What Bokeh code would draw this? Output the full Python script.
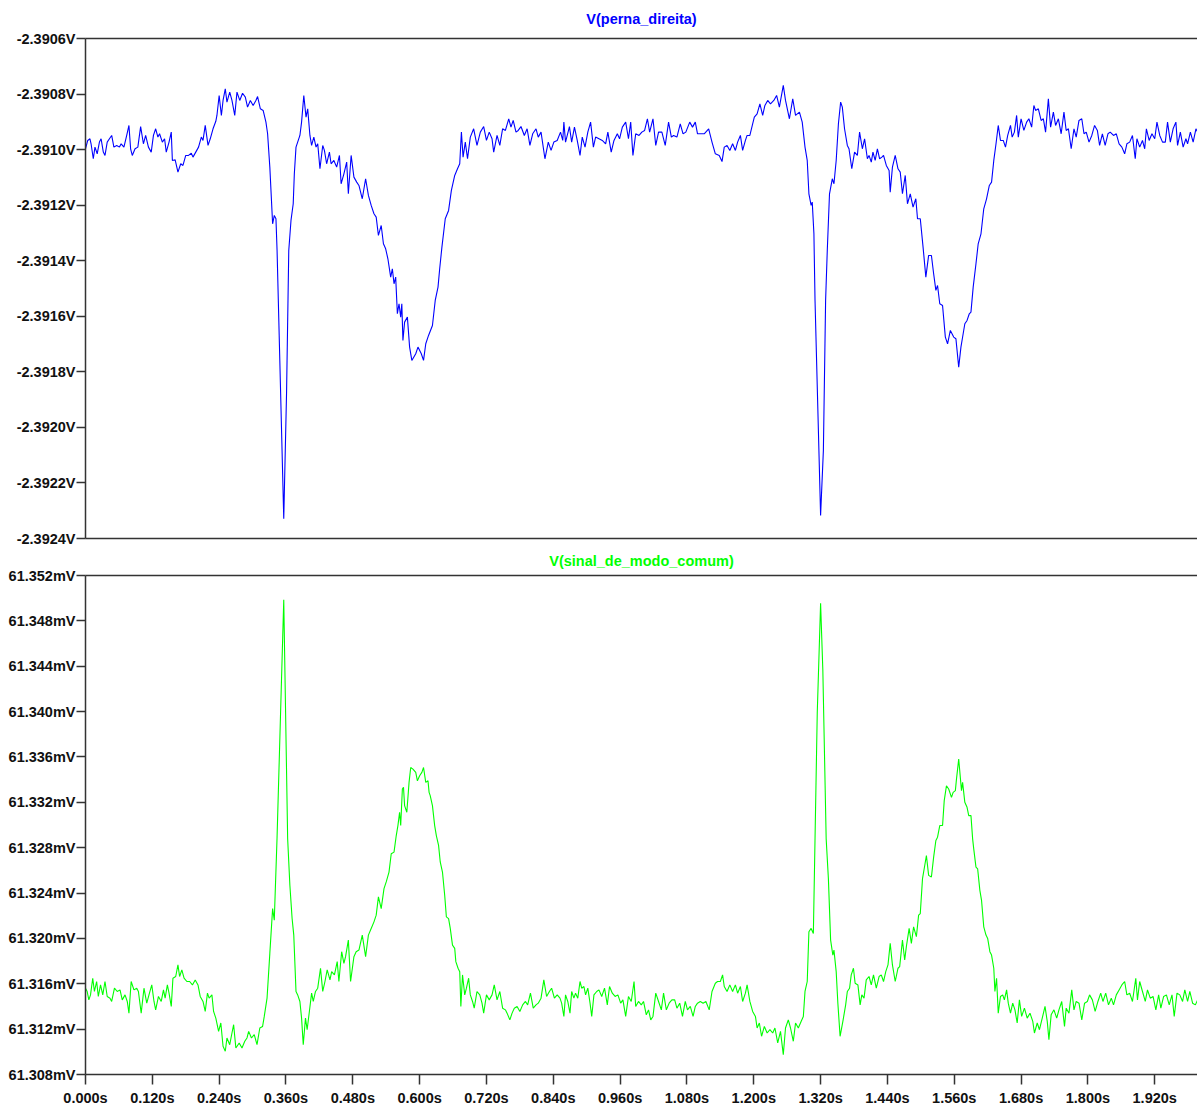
from bokeh.plotting import figure
from bokeh.layouts import column
from bokeh.models import Range1d, LinearAxis, FixedTicker, PrintfTickFormatter
from bokeh.embed import file_html
from bokeh.resources import INLINE

# ---------------- data ----------------
# V(perna_direita): (time in ms, volts)
perna_direita = [
    (0, -2.390997), (4, -2.390967), (8, -2.390961), (10, -2.390979), (14, -2.391033), (17, -2.390991),
    (21, -2.391015), (25, -2.390973), (28, -2.390961), (32, -2.391009), (35, -2.391021), (39, -2.390973),
    (43, -2.390961), (47, -2.390949), (51, -2.390991), (56, -2.390985), (61, -2.390991), (64, -2.390979),
    (69, -2.390991), (74, -2.390949), (78, -2.390913), (81, -2.390997), (84, -2.391021), (89, -2.390997),
    (94, -2.390991), (99, -2.390917), (104, -2.390979), (108, -2.390949), (113, -2.390991), (118, -2.391009),
    (122, -2.390949), (126, -2.390925), (130, -2.390955), (133, -2.390943), (138, -2.390973), (142, -2.390961),
    (145, -2.391009), (150, -2.390973), (154, -2.390937), (156, -2.391039), (161, -2.391037), (166, -2.391081),
    (171, -2.391051), (175, -2.391057), (180, -2.391021), (185, -2.391021), (190, -2.391013), (193, -2.391027),
    (198, -2.391009), (203, -2.390991), (208, -2.390955), (211, -2.390967), (215, -2.390913), (220, -2.390985),
    (224, -2.390961), (229, -2.390925), (234, -2.390898), (236, -2.390877), (240, -2.390805), (244, -2.390877),
    (247, -2.390823), (251, -2.390781), (254, -2.390829), (259, -2.390793), (263, -2.390823), (268, -2.390877),
    (272, -2.390793), (277, -2.390823), (282, -2.390797), (287, -2.390811), (291, -2.390847), (296, -2.390823),
    (301, -2.390841), (306, -2.390823), (309, -2.390809), (314, -2.390853), (319, -2.390859), (324, -2.390901),
    (327, -2.390943), (331, -2.391063), (336, -2.391267), (339, -2.391237), (342, -2.391249), (344, -2.391363),
    (356, -2.392329), (361, -2.391879), (365, -2.391363), (369, -2.391255), (373, -2.391195), (375, -2.391087),
    (378, -2.390991), (381, -2.390973), (385, -2.390949), (388, -2.390901), (392, -2.390805), (396, -2.390883),
    (399, -2.390853), (403, -2.390949), (406, -2.390985), (410, -2.390955), (414, -2.390991), (417, -2.390979),
    (421, -2.391069), (426, -2.390985), (429, -2.391003), (433, -2.391051), (438, -2.391009), (441, -2.391051),
    (446, -2.391039), (451, -2.391063), (456, -2.391021), (459, -2.391123), (464, -2.391087), (469, -2.391045),
    (472, -2.391159), (477, -2.391021), (482, -2.391099), (487, -2.391117), (491, -2.391129), (497, -2.391177),
    (503, -2.391105), (508, -2.391165), (513, -2.391201), (518, -2.391231), (522, -2.391243), (526, -2.391309),
    (531, -2.391273), (535, -2.391339), (539, -2.391357), (543, -2.391393), (548, -2.391459), (551, -2.391429),
    (554, -2.391483), (557, -2.391459), (560, -2.391591), (563, -2.391555), (566, -2.391603), (568, -2.391555),
    (570, -2.391687), (573, -2.391621), (578, -2.391603), (582, -2.391711), (586, -2.391759), (593, -2.391735),
    (597, -2.391711), (603, -2.391735), (607, -2.391759), (611, -2.391699), (616, -2.391669), (623, -2.391633),
    (628, -2.391543), (633, -2.391495), (636, -2.391429), (640, -2.391351), (646, -2.391249), (652, -2.391219),
    (657, -2.391147), (663, -2.391093), (668, -2.391069), (672, -2.391051), (675, -2.390937), (678, -2.391027),
    (682, -2.390973), (686, -2.391033), (691, -2.390955), (697, -2.390925), (703, -2.390985), (709, -2.390937),
    (715, -2.390917), (720, -2.390967), (725, -2.390937), (730, -2.390961), (733, -2.391009), (739, -2.390949),
    (744, -2.390985), (749, -2.390925), (754, -2.390931), (760, -2.390889), (764, -2.390919), (768, -2.390895),
    (773, -2.390937), (777, -2.390931), (782, -2.390917), (788, -2.390949), (793, -2.390925), (798, -2.390985),
    (803, -2.390943), (809, -2.390925), (813, -2.390955), (818, -2.390937), (825, -2.391033), (831, -2.390973),
    (836, -2.391003), (841, -2.390973), (847, -2.390967), (853, -2.390937), (857, -2.390967), (859, -2.390901),
    (862, -2.390973), (869, -2.390917), (873, -2.390973), (878, -2.390919), (883, -2.390967), (888, -2.391021),
    (892, -2.390955), (897, -2.390991), (902, -2.390937), (907, -2.390901), (912, -2.390991), (916, -2.390955),
    (922, -2.390961), (928, -2.390967), (934, -2.390979), (938, -2.390937), (944, -2.391009), (949, -2.390967),
    (955, -2.390943), (959, -2.390961), (964, -2.390919), (970, -2.390901), (975, -2.390961), (979, -2.390901),
    (983, -2.391021), (988, -2.390943), (994, -2.390949), (999, -2.390937), (1004, -2.390931), (1009, -2.390889),
    (1013, -2.390937), (1019, -2.390889), (1024, -2.390985), (1029, -2.390937), (1035, -2.390937), (1041, -2.390985),
    (1047, -2.390901), (1052, -2.390955), (1056, -2.390949), (1062, -2.390955), (1068, -2.390907), (1073, -2.390943),
    (1078, -2.390937), (1085, -2.390901), (1090, -2.390919), (1095, -2.390901), (1099, -2.390943), (1106, -2.390943),
    (1111, -2.390943), (1119, -2.390925), (1125, -2.390973), (1131, -2.391015), (1138, -2.391021), (1143, -2.391043),
    (1147, -2.390991), (1152, -2.390985), (1157, -2.391003), (1162, -2.390979), (1167, -2.391003), (1171, -2.390973),
    (1176, -2.390949), (1180, -2.391003), (1185, -2.390967), (1188, -2.390949), (1193, -2.390949), (1198, -2.390907),
    (1201, -2.390883), (1206, -2.390871), (1211, -2.390835), (1216, -2.390877), (1220, -2.390841), (1225, -2.390823),
    (1230, -2.390835), (1236, -2.390823), (1241, -2.390805), (1246, -2.390847), (1253, -2.390769), (1257, -2.390823),
    (1264, -2.390889), (1270, -2.390817), (1275, -2.390877), (1282, -2.390865), (1287, -2.390901), (1292, -2.390991),
    (1296, -2.391039), (1299, -2.391159), (1303, -2.391201), (1305, -2.391189), (1308, -2.391303), (1310, -2.391543),
    (1320, -2.392317), (1325, -2.392083), (1329, -2.391543), (1332, -2.391363), (1336, -2.391159), (1341, -2.391105),
    (1344, -2.391123), (1348, -2.391039), (1352, -2.390907), (1356, -2.390829), (1359, -2.390847), (1363, -2.390925),
    (1368, -2.390985), (1371, -2.390997), (1376, -2.391069), (1381, -2.391009), (1386, -2.391021), (1390, -2.390937),
    (1395, -2.390997), (1399, -2.390961), (1404, -2.391033), (1407, -2.391021), (1411, -2.391045), (1414, -2.391009),
    (1418, -2.391039), (1422, -2.390997), (1426, -2.391033), (1430, -2.391027), (1433, -2.391021), (1438, -2.391057),
    (1443, -2.391075), (1445, -2.391153), (1449, -2.391063), (1454, -2.391021), (1459, -2.391069), (1463, -2.391081),
    (1467, -2.391159), (1472, -2.391093), (1476, -2.391195), (1481, -2.391159), (1486, -2.391207), (1491, -2.391177),
    (1494, -2.391249), (1499, -2.391249), (1504, -2.391351), (1509, -2.391459), (1514, -2.391381), (1519, -2.391381),
    (1523, -2.391447), (1527, -2.391507), (1530, -2.391489), (1534, -2.391555), (1539, -2.391561), (1544, -2.391675),
    (1548, -2.391699), (1553, -2.391651), (1559, -2.391675), (1563, -2.391681), (1568, -2.391783), (1572, -2.391711),
    (1576, -2.391663), (1579, -2.391627), (1583, -2.391615), (1587, -2.391591), (1590, -2.391585), (1594, -2.391495),
    (1599, -2.391411), (1603, -2.391339), (1608, -2.391303), (1613, -2.391213), (1618, -2.391177), (1623, -2.391129),
    (1627, -2.391117), (1631, -2.391039), (1635, -2.390979), (1639, -2.390913), (1643, -2.390967), (1648, -2.390967),
    (1652, -2.390991), (1656, -2.390949), (1661, -2.390913), (1664, -2.390955), (1668, -2.390937), (1672, -2.390877),
    (1675, -2.390955), (1680, -2.390889), (1685, -2.390931), (1690, -2.390901), (1694, -2.390889), (1699, -2.390919),
    (1703, -2.390841), (1706, -2.390859), (1711, -2.390853), (1716, -2.390895), (1720, -2.390889), (1724, -2.390937),
    (1729, -2.390817), (1733, -2.390919), (1738, -2.390865), (1742, -2.390913), (1747, -2.390889), (1752, -2.390943),
    (1757, -2.390865), (1761, -2.390931), (1765, -2.390925), (1770, -2.390997), (1775, -2.390925), (1779, -2.390955),
    (1784, -2.390895), (1789, -2.390889), (1793, -2.390943), (1797, -2.390937), (1802, -2.390973), (1807, -2.390949),
    (1812, -2.390913), (1817, -2.390931), (1821, -2.390985), (1826, -2.390943), (1831, -2.390985), (1836, -2.390943),
    (1840, -2.390937), (1846, -2.390949), (1851, -2.390943), (1856, -2.390979), (1861, -2.390991), (1866, -2.391015),
    (1870, -2.390979), (1875, -2.390973), (1880, -2.390949), (1885, -2.391033), (1888, -2.390961), (1893, -2.390991),
    (1898, -2.390967), (1902, -2.390997), (1905, -2.390925), (1910, -2.390967), (1915, -2.390943), (1920, -2.390961),
    (1924, -2.390901), (1929, -2.390949), (1934, -2.390973), (1939, -2.390973), (1943, -2.390901), (1948, -2.390973),
    (1953, -2.390925), (1958, -2.390901), (1961, -2.390985), (1966, -2.390937), (1971, -2.390991), (1976, -2.390961),
    (1979, -2.390979), (1984, -2.390937), (1989, -2.390973), (1994, -2.390925), (1997, -2.390937),
]

# V(sinal_de_modo_comum): (time in ms, millivolts)
sinal_de_modo_comum = [
    (0, 61.31561), (3, 61.31532), (6, 61.31458), (9, 61.31502), (13, 61.31649), (16, 61.31532),
    (20, 61.31620), (23, 61.31488), (27, 61.31590), (31, 61.31502), (35, 61.31620), (39, 61.31488),
    (44, 61.31473), (47, 61.31444), (52, 61.31561), (57, 61.31532), (62, 61.31546), (66, 61.31458),
    (71, 61.31502), (75, 61.31444), (78, 61.31341), (82, 61.31620), (87, 61.31546), (92, 61.31561),
    (95, 61.31532), (100, 61.31341), (105, 61.31561), (110, 61.31429), (114, 61.31502), (119, 61.31590),
    (123, 61.31444), (126, 61.31370), (131, 61.31488), (136, 61.31444), (140, 61.31546), (143, 61.31473),
    (147, 61.31590), (150, 61.31517), (154, 61.31400), (157, 61.31649), (162, 61.31664), (166, 61.31766),
    (169, 61.31664), (173, 61.31722), (177, 61.31649), (182, 61.31620), (187, 61.31620), (192, 61.31590),
    (197, 61.31634), (202, 61.31590), (206, 61.31488), (211, 61.31444), (215, 61.31356), (219, 61.31517),
    (222, 61.31473), (227, 61.31502), (230, 61.31356), (234, 61.31297), (239, 61.31180), (243, 61.31254),
    (247, 61.31049), (251, 61.31005), (254, 61.31122), (259, 61.31063), (263, 61.31166), (266, 61.31239),
    (270, 61.31034), (276, 61.31078), (281, 61.31034), (286, 61.31093), (290, 61.31122), (293, 61.31180),
    (298, 61.31122), (303, 61.31151), (308, 61.31063), (313, 61.31210), (318, 61.31224), (321, 61.31312),
    (326, 61.31473), (331, 61.31868), (336, 61.32263), (339, 61.32160), (344, 61.32893), (356, 61.34985),
    (363, 61.32878), (367, 61.32468), (371, 61.32175), (374, 61.32029), (378, 61.31532), (381, 61.31502),
    (385, 61.31444), (388, 61.31297), (391, 61.31063), (395, 61.31297), (398, 61.31195), (402, 61.31356),
    (406, 61.31517), (409, 61.31444), (413, 61.31532), (417, 61.31561), (422, 61.31737), (426, 61.31532),
    (430, 61.31620), (434, 61.31722), (439, 61.31634), (442, 61.31707), (447, 61.31678), (452, 61.31795),
    (455, 61.31620), (460, 61.31883), (464, 61.31780), (467, 61.31839), (472, 61.31985), (476, 61.31620),
    (482, 61.31839), (486, 61.31883), (491, 61.31897), (497, 61.32029), (503, 61.31839), (508, 61.32029),
    (513, 61.32088), (518, 61.32146), (522, 61.32205), (526, 61.32366), (531, 61.32263), (536, 61.32439),
    (540, 61.32498), (545, 61.32585), (549, 61.32746), (554, 61.32761), (558, 61.32907), (561, 61.32995),
    (564, 61.33112), (566, 61.32995), (569, 61.33317), (571, 61.33332), (573, 61.33171), (577, 61.33112),
    (581, 61.33376), (584, 61.33507), (588, 61.33493), (593, 61.33464), (596, 61.33390), (600, 61.33434),
    (604, 61.33464), (607, 61.33507), (611, 61.33376), (615, 61.33390), (617, 61.33288), (619, 61.33259),
    (623, 61.33171), (627, 61.32995), (630, 61.32907), (634, 61.32820), (637, 61.32674), (641, 61.32585),
    (645, 61.32380), (648, 61.32190), (652, 61.32175), (655, 61.32088), (659, 61.31941), (663, 61.31912),
    (665, 61.31795), (669, 61.31737), (672, 61.31707), (674, 61.31400), (677, 61.31678), (681, 61.31502),
    (684, 61.31561), (688, 61.31649), (691, 61.31502), (695, 61.31444), (698, 61.31385), (703, 61.31532),
    (708, 61.31502), (712, 61.31429), (715, 61.31341), (720, 61.31502), (725, 61.31458), (730, 61.31502),
    (734, 61.31590), (739, 61.31458), (744, 61.31532), (749, 61.31385), (754, 61.31370), (757, 61.31341),
    (762, 61.31282), (766, 61.31341), (770, 61.31385), (775, 61.31400), (780, 61.31356), (785, 61.31414),
    (790, 61.31444), (794, 61.31414), (799, 61.31517), (804, 61.31385), (809, 61.31414), (813, 61.31429),
    (818, 61.31473), (823, 61.31634), (828, 61.31488), (833, 61.31532), (837, 61.31561), (842, 61.31473),
    (847, 61.31502), (852, 61.31473), (855, 61.31429), (859, 61.31312), (862, 61.31502), (866, 61.31444),
    (870, 61.31341), (873, 61.31532), (877, 61.31473), (880, 61.31517), (884, 61.31473), (888, 61.31620),
    (891, 61.31561), (895, 61.31576), (898, 61.31502), (902, 61.31561), (906, 61.31429), (909, 61.31312),
    (913, 61.31502), (918, 61.31532), (922, 61.31546), (927, 61.31488), (932, 61.31561), (937, 61.31414),
    (941, 61.31576), (946, 61.31517), (951, 61.31488), (956, 61.31502), (961, 61.31429), (965, 61.31458),
    (970, 61.31312), (975, 61.31488), (980, 61.31444), (985, 61.31620), (988, 61.31400), (993, 61.31444),
    (998, 61.31414), (1002, 61.31444), (1007, 61.31326), (1011, 61.31370), (1015, 61.31282), (1019, 61.31312),
    (1024, 61.31517), (1029, 61.31444), (1034, 61.31370), (1038, 61.31517), (1043, 61.31370), (1048, 61.31429),
    (1053, 61.31458), (1058, 61.31458), (1062, 61.31385), (1067, 61.31429), (1072, 61.31312), (1077, 61.31444),
    (1081, 61.31370), (1086, 61.31400), (1091, 61.31312), (1095, 61.31400), (1099, 61.31429), (1104, 61.31444),
    (1109, 61.31429), (1114, 61.31444), (1120, 61.31370), (1125, 61.31532), (1131, 61.31605), (1135, 61.31620),
    (1140, 61.31620), (1144, 61.31678), (1147, 61.31576), (1152, 61.31532), (1157, 61.31590), (1162, 61.31532),
    (1167, 61.31590), (1171, 61.31517), (1176, 61.31576), (1180, 61.31444), (1185, 61.31517), (1188, 61.31590),
    (1193, 61.31444), (1198, 61.31356), (1203, 61.31312), (1206, 61.31210), (1210, 61.31254), (1214, 61.31137),
    (1219, 61.31224), (1224, 61.31166), (1229, 61.31195), (1234, 61.31166), (1238, 61.31210), (1243, 61.31078),
    (1248, 61.31180), (1253, 61.30975), (1257, 61.31210), (1262, 61.31282), (1266, 61.31210), (1271, 61.31093),
    (1275, 61.31254), (1280, 61.31210), (1285, 61.31268), (1289, 61.31312), (1292, 61.31532), (1296, 61.31620),
    (1299, 61.32059), (1303, 61.32088), (1307, 61.32044), (1310, 61.32878), (1314, 61.33990), (1320, 61.34956),
    (1324, 61.34370), (1330, 61.32878), (1334, 61.32527), (1338, 61.31985), (1342, 61.31853), (1344, 61.31897),
    (1348, 61.31707), (1351, 61.31429), (1355, 61.31137), (1360, 61.31268), (1365, 61.31414), (1368, 61.31532),
    (1372, 61.31561), (1375, 61.31678), (1379, 61.31737), (1382, 61.31605), (1387, 61.31590), (1391, 61.31414),
    (1394, 61.31502), (1398, 61.31473), (1402, 61.31634), (1407, 61.31664), (1411, 61.31590), (1415, 61.31678),
    (1420, 61.31561), (1425, 61.31664), (1429, 61.31678), (1433, 61.31620), (1437, 61.31707), (1441, 61.31766),
    (1445, 61.31956), (1449, 61.31766), (1454, 61.31620), (1459, 61.31737), (1462, 61.31751), (1467, 61.31985),
    (1471, 61.31810), (1474, 61.31927), (1479, 61.32088), (1483, 61.31956), (1487, 61.32102), (1492, 61.32015),
    (1496, 61.32205), (1499, 61.32219), (1503, 61.32527), (1507, 61.32643), (1510, 61.32731), (1514, 61.32556),
    (1519, 61.32541), (1523, 61.32717), (1527, 61.32863), (1530, 61.32893), (1534, 61.32995), (1539, 61.32995),
    (1542, 61.33215), (1546, 61.33346), (1550, 61.33317), (1555, 61.33244), (1558, 61.33288), (1562, 61.33303),
    (1564, 61.33405), (1568, 61.33581), (1573, 61.33303), (1575, 61.33376), (1579, 61.33200), (1583, 61.33156),
    (1586, 61.33083), (1590, 61.33083), (1593, 61.32878), (1595, 61.32790), (1599, 61.32629), (1602, 61.32614),
    (1606, 61.32424), (1609, 61.32336), (1613, 61.32102), (1617, 61.32029), (1620, 61.32000), (1624, 61.31883),
    (1627, 61.31853), (1631, 61.31737), (1633, 61.31532), (1636, 61.31649), (1639, 61.31341), (1643, 61.31488),
    (1647, 61.31502), (1650, 61.31458), (1654, 61.31546), (1657, 61.31429), (1661, 61.31341), (1665, 61.31429),
    (1669, 61.31370), (1673, 61.31254), (1677, 61.31458), (1681, 61.31312), (1686, 61.31385), (1691, 61.31297),
    (1696, 61.31341), (1701, 61.31268), (1704, 61.31166), (1709, 61.31254), (1713, 61.31195), (1718, 61.31297),
    (1723, 61.31400), (1727, 61.31268), (1730, 61.31107), (1734, 61.31326), (1739, 61.31370), (1744, 61.31297),
    (1748, 61.31370), (1753, 61.31444), (1758, 61.31224), (1761, 61.31385), (1766, 61.31341), (1771, 61.31546),
    (1775, 61.31370), (1779, 61.31444), (1784, 61.31429), (1789, 61.31282), (1794, 61.31429), (1799, 61.31444),
    (1803, 61.31502), (1808, 61.31458), (1813, 61.31356), (1818, 61.31444), (1823, 61.31517), (1827, 61.31444),
    (1832, 61.31517), (1837, 61.31414), (1842, 61.31473), (1846, 61.31414), (1851, 61.31502), (1856, 61.31546),
    (1861, 61.31590), (1866, 61.31620), (1870, 61.31502), (1875, 61.31517), (1880, 61.31444), (1886, 61.31649),
    (1889, 61.31458), (1893, 61.31620), (1898, 61.31532), (1903, 61.31444), (1907, 61.31546), (1912, 61.31473),
    (1917, 61.31488), (1922, 61.31370), (1927, 61.31502), (1931, 61.31385), (1936, 61.31488), (1941, 61.31502),
    (1946, 61.31414), (1951, 61.31502), (1955, 61.31312), (1960, 61.31517), (1965, 61.31502), (1970, 61.31444),
    (1974, 61.31546), (1979, 61.31444), (1983, 61.31532), (1988, 61.31429), (1993, 61.31414), (1997, 61.31458),
]

# axis ticks
perna_ticks = [-2.3924, -2.3922, -2.3920, -2.3918, -2.3916, -2.3914, -2.3912, -2.3910, -2.3908, -2.3906]
modo_ticks = [61.308, 61.312, 61.316, 61.320, 61.324, 61.328, 61.332, 61.336, 61.340, 61.344, 61.348, 61.352]
time_ticks = [0.000, 0.120, 0.240, 0.360, 0.480, 0.600, 0.720, 0.840, 0.960, 1.080, 1.200,
              1.320, 1.440, 1.560, 1.680, 1.800, 1.920]

titles = ["V(perna_direita)", "V(sinal_de_modo_comum)"]
colors = ["#0000ff", "#00ff00"]

# ---------------- style ----------------
FONT = "Liberation Sans"
AXIS_COLOR = "#333333"
LABEL_COLOR = "#111111"
W = 1197
X_END = 1.9968


def border_axis():
    ax = LinearAxis(ticker=FixedTicker(ticks=[]))
    ax.axis_line_color = AXIS_COLOR
    ax.axis_line_width = 1.5
    ax.major_tick_line_color = None
    ax.minor_tick_line_color = None
    ax.major_tick_out = 0
    ax.major_tick_in = 0
    ax.major_label_standoff = 0
    ax.major_label_text_font_size = "0px"
    return ax


def make_panel(samples, title, color, yticks, yfmt, height, top, bottom, standoff, show_x):
    t = [ms / 1000.0 for ms, _ in samples]
    v = [val for _, val in samples]
    p = figure(width=W, height=height, output_backend="svg", toolbar_location=None,
               x_range=Range1d(0, X_END), y_range=Range1d(yticks[0], yticks[-1]),
               min_border_left=85, min_border_right=0, min_border_top=top,
               min_border_bottom=bottom, title=title)
    p.outline_line_color = None
    p.grid.visible = False
    p.background_fill_color = "white"
    p.border_fill_color = "white"

    p.title.align = "center"
    p.title.vertical_align = "top"
    p.title.text_color = color
    p.title.text_font = FONT
    p.title.text_font_style = "bold"
    p.title.text_font_size = "14.5px"
    p.title.standoff = standoff

    ya = p.yaxis[0]
    ya.ticker = FixedTicker(ticks=yticks)
    ya.formatter = PrintfTickFormatter(format=yfmt)
    ya.axis_line_color = AXIS_COLOR
    ya.axis_line_width = 1.5
    ya.major_tick_line_color = AXIS_COLOR
    ya.major_tick_line_width = 1.5
    ya.major_tick_out = 9
    ya.major_tick_in = 0
    ya.minor_tick_line_color = None
    ya.major_label_standoff = 1
    ya.major_label_text_font = FONT
    ya.major_label_text_font_style = "bold"
    ya.major_label_text_font_size = "14.5px"
    ya.major_label_text_color = LABEL_COLOR

    xa = p.xaxis[0]
    xa.axis_line_color = AXIS_COLOR
    xa.axis_line_width = 1.5
    xa.minor_tick_line_color = None
    if show_x:
        xa.ticker = FixedTicker(ticks=time_ticks)
        xa.formatter = PrintfTickFormatter(format="%.3fs")
        xa.major_tick_line_color = AXIS_COLOR
        xa.major_tick_line_width = 1.5
        xa.major_tick_out = 10
        xa.major_tick_in = 0
        xa.major_label_standoff = 5
        xa.major_label_text_font = FONT
        xa.major_label_text_font_style = "bold"
        xa.major_label_text_font_size = "14.5px"
        xa.major_label_text_color = LABEL_COLOR
    else:
        xa.ticker = FixedTicker(ticks=[])
        xa.major_tick_line_color = None
        xa.major_tick_out = 0
        xa.major_tick_in = 0
        xa.major_label_standoff = 0
        xa.major_label_text_font_size = "0px"

    p.add_layout(border_axis(), "above")
    p.line(t, v, line_color=color, line_width=1.1)
    return p


# upper pane: frame 38..538, lower pane: frame 575..1076
top = make_panel(perna_direita, titles[0], colors[0], perna_ticks, "%.4fV",
                 height=546, top=38, bottom=8, standoff=19, show_x=False)
bot = make_panel(sinal_de_modo_comum, titles[1], colors[1], modo_ticks, "%.3fmV",
                 height=562, top=29, bottom=32, standoff=10, show_x=True)

layout = column(top, bot, spacing=0)

open("out.html", "w").write(file_html(layout, INLINE))
